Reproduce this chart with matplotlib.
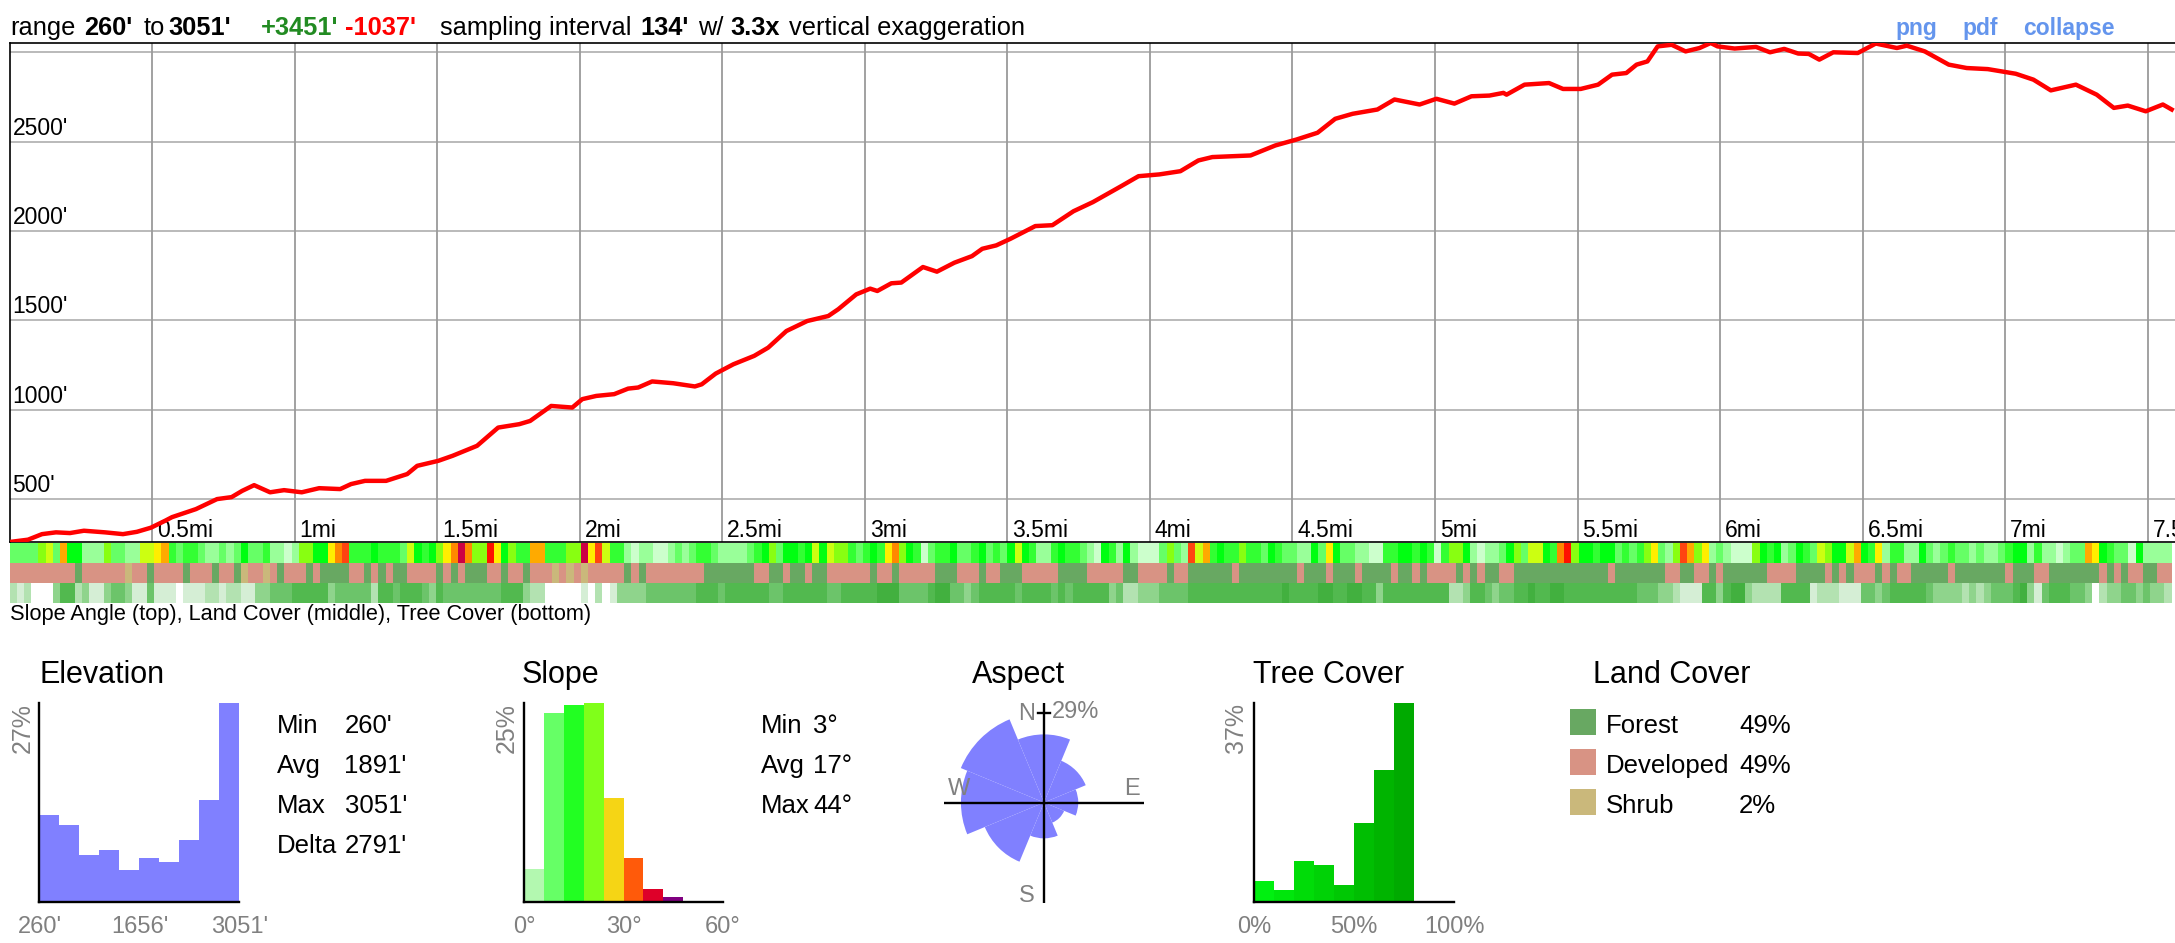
import numpy as np
import matplotlib
matplotlib.use('Agg')
import matplotlib.pyplot as plt
from matplotlib.patches import Wedge, Rectangle

W, H = 2175, 943
plt.rcParams['font.family'] = ['Liberation Sans', 'DejaVu Sans']

# ---- elevation profile (miles, feet)
dist_mi = [0.00, 0.065, 0.114, 0.163, 0.212, 0.261, 0.335, 0.398, 0.447, 0.496, 0.546, 0.570, 0.654,
           0.728, 0.779, 0.816, 0.858, 0.914, 0.963, 1.025, 1.086, 1.160, 1.198, 1.247, 1.321, 1.395,
           1.430, 1.504, 1.554, 1.640, 1.714, 1.788, 1.826, 1.900, 1.974, 2.009, 2.058, 2.121, 2.170,
           2.205, 2.254, 2.328, 2.404, 2.428, 2.477, 2.539, 2.612, 2.661, 2.725, 2.798, 2.872, 2.907,
           2.970, 3.019, 3.044, 3.093, 3.128, 3.204, 3.253, 3.314, 3.376, 3.412, 3.461, 3.511, 3.598,
           3.658, 3.732, 3.800, 3.899, 3.960, 4.033, 4.107, 4.170, 4.219, 4.353, 4.440, 4.514, 4.588,
           4.650, 4.711, 4.798, 4.858, 4.946, 5.005, 5.068, 5.128, 5.191, 5.240, 5.251, 5.314, 5.400,
           5.449, 5.511, 5.572, 5.621, 5.671, 5.707, 5.745, 5.781, 5.830, 5.879, 5.928, 5.967, 5.991,
           6.051, 6.126, 6.175, 6.225, 6.274, 6.311, 6.348, 6.397, 6.483, 6.546, 6.620, 6.655, 6.718,
           6.802, 6.865, 6.939, 7.037, 7.099, 7.160, 7.248, 7.321, 7.381, 7.430, 7.493, 7.553, 7.584]
elev_ft = [260, 273, 304, 314, 310, 323, 314, 304, 317, 340, 379, 399, 444, 500, 511, 546, 578, 538,
           550, 538, 561, 556, 584, 602, 602, 640, 686, 714, 742, 798, 900, 919, 937, 1021, 1012, 1059,
           1077, 1087, 1118, 1124, 1158, 1148, 1130, 1142, 1202, 1254, 1301, 1347, 1440, 1496, 1524,
           1562, 1645, 1677, 1664, 1707, 1711, 1798, 1772, 1822, 1859, 1900, 1919, 1956, 2027, 2032,
           2110, 2161, 2250, 2306, 2316, 2334, 2394, 2413, 2422, 2478, 2511, 2549, 2627, 2655, 2679,
           2735, 2707, 2739, 2712, 2753, 2757, 2772, 2762, 2818, 2827, 2794, 2794, 2818, 2874, 2883,
           2930, 2948, 3032, 3041, 3004, 3023, 3051, 3032, 3020, 3029, 2999, 3018, 2992, 2990, 2958,
           2999, 2995, 3048, 3023, 3036, 3004, 2930, 2911, 2905, 2879, 2846, 2786, 2818, 2762, 2688,
           2701, 2669, 2707, 2679]

elev_grid = [500, 1000, 1500, 2000, 2500, 3000]
elev_labels = ["500'", "1000'", "1500'", "2000'", "2500'"]
mile_grid = [0.5, 1, 1.5, 2, 2.5, 3, 3.5, 4, 4.5, 5, 5.5, 6, 6.5, 7, 7.5]
mile_labels = ['0.5mi', '1mi', '1.5mi', '2mi', '2.5mi', '3mi', '3.5mi', '4mi', '4.5mi', '5mi',
               '5.5mi', '6mi', '6.5mi', '7mi', '7.5mi']

# ---- strips along the route (one code per sample)
slope_strip = ("ccccfgcieebbbfccbbgghidcddcbbcbceccdbbabffeehjkdddedddcgedefhjmjfflhefddiidddffm"
               "hkgddbabbaabcbcddcb"
               "bbbcdefceedegegffdcdedhjfedacddeccdecdcegedbbdeddcbaedbebaaacfcbkgideddfddcedccb"
               "becheccbbaaddeededad"
               "ffebabbcefcggedjlfeedeecdcdfhcbfkifhbcbaaafedebcedcgfeegiedhbddbbecbcdccbcbbcdee"
               "bdbbabccihedccaebbbb")
land_strip = ("DDDDDDDDDFDDDDDDSDDFDDDDFDDDFDDFSDDSDFDDDFDFFFFDDFDFDFFDDDDFDFDFFFDDFDDFDDDSDSDSDDDDDFDFDDDDDDDDFFF"
              "FFFFDDFFDFFDFFDDDDDDFDDFDDDDDFFFDDDFDDFFFDDDDDFFFFDDDDDFFDDDDFDDFFFFFFDFFFFFFFFDFFFDFFFDFFFFDFFDFDDD"
              "DFDFDFFDDFFFFFFFFFFFFFDFFFFFFFDDFFDDFDFFFFFFDDDDFFFFDFDFDDDFDFDDFFFFFDFFFFFFFDFFFDDFFFFFFFDFDFDDFFDD")
tree_strip = ("212000355231134431141110111" "22122113344455555" "344444255455543"
              "5444444445553220000010201" "333344444445554"
              "55555544555555445555566644445664434555554555545455555342233344445555555555555655"
              "55665566553555555555"
              "22355434455655665555555555444332111553566322225555122211144345555543333232344456"
              "31455544302334434332")
slope_colors = {'a': '#ccffcc', 'b': '#99ff99', 'c': '#66ff66', 'd': '#33ff33', 'e': '#00ff11',
                'f': '#88ff11', 'g': '#ccff11', 'h': '#ffee00', 'i': '#ffaa00', 'j': '#ff8800',
                'k': '#ff4411', 'l': '#ff1100', 'm': '#cc0044'}
land_colors = {'F': '#68a862', 'D': '#d89384', 'S': '#cab87b'}
tree_colors = {'0': '#ffffff', '1': '#d5eed5', '2': '#b3e2b1', '3': '#8fd48c', '4': '#6cc46a',
               '5': '#52b94f', '6': '#42b03f'}

# ---- histograms
elev_hist = [11.8, 10.5, 6.4, 7.1, 4.4, 6.0, 5.4, 8.4, 13.8, 27.0]
slope_hist = [4.2, 23.7, 24.7, 25.0, 13.1, 5.5, 1.6, 0.6]
slope_hist_colors = ['#b3f8b0', '#66ff66', '#22ff22', '#80ff1a', '#f5d515', '#ff5a0a', '#de0029', '#800080']
tree_hist = [3.95, 2.3, 7.66, 6.9, 3.2, 14.7, 24.5, 37.0]
tree_hist_colors = ['#00f010', '#00e60c', '#00dc08', '#00d206', '#00c804', '#00be02', '#00b400', '#00aa00']
aspect_dirs = [0, 45, 90, 135, 180, 225, 270, 315]
aspect_pct = [16.6, 7.3, 4.2, 1.7, 4.6, 14.7, 24.7, 29.0]
land_names = ['Forest', 'Developed', 'Shrub']
land_pct = ['49%', '49%', '2%']
land_swatch = ['#68a862', '#d89384', '#cab87b']

fig = plt.figure(figsize=(W / 100, H / 100), dpi=100)


def rect(x0, y0, x1, y1):
    return [x0 / W, 1 - y1 / H, (x1 - x0) / W, (y1 - y0) / H]


GRAY = '#808080'
x_end = (W - 9.5) / 285.1

# main profile
ax = fig.add_axes(rect(9.5, 43, W, 542))
for v in elev_grid:
    ax.axhline(v, color='#b4b4b4', lw=1.3, zorder=1)
for d in mile_grid:
    ax.axvline(d, color='#9a9a9a', lw=1.3, zorder=1)
ax.plot(dist_mi, elev_ft, color='#ff0000', lw=3.2, solid_joinstyle='round', zorder=3)
ax.set_xlim(0, x_end)
ax.set_ylim(260, 3051)
ax.set_xticks([])
ax.set_yticks([])
ax.spines['right'].set_visible(False)
for s in ['top', 'left', 'bottom']:
    ax.spines[s].set_linewidth(1.2)
for v, lab in zip(elev_grid, elev_labels):
    ax.annotate(lab, xy=(0, v), xycoords=('axes fraction', 'data'), xytext=(3, 7),
                textcoords='offset pixels', fontsize=16.5, va='baseline', ha='left', zorder=4)
for d, lab in zip(mile_grid, mile_labels):
    ax.annotate(lab, xy=(d, 0), xycoords=('data', 'axes fraction'), xytext=(5, 5),
                textcoords='offset pixels', fontsize=16.5, va='baseline', ha='left', zorder=2)

# strips
sx = fig.add_axes(rect(9.5, 543, W, 603))
for row, (codes, cmap) in enumerate([(slope_strip, slope_colors), (land_strip, land_colors),
                                     (tree_strip, tree_colors)]):
    n = len(codes)
    dx = dist_mi[-1] / n
    sx.bar(np.arange(n) * dx, 1, width=dx, bottom=row, align='edge',
           color=[cmap[c] for c in codes], linewidth=0)
sx.set_xlim(0, x_end)
sx.set_ylim(3, 0)
sx.axis('off')

# overlay in pixel coordinates for text
ov = fig.add_axes([0, 0, 1, 1], zorder=5)
ov.set_xlim(0, W)
ov.set_ylim(H, 0)
ov.axis('off')


def txt(x, y, s, **kw):
    kw.setdefault('va', 'baseline')
    kw.setdefault('ha', 'left')
    return ov.text(x, y, s, **kw)


hdr = [(10.5, "range", 'black', 'normal'), (84, "260'", 'black', 'bold'), (144, "to", 'black', 'normal'),
       (168, "3051'", 'black', 'bold'), (261, "+3451'", '#228b22', 'bold'), (345, "-1037'", '#ff0000', 'bold'),
       (440.5, "sampling interval", 'black', 'normal'), (640, "134'", 'black', 'bold'),
       (698, "w/", 'black', 'normal'), (730, "3.3x", 'black', 'bold'),
       (789, "vertical exaggeration", 'black', 'normal')]
for x, s, c, w in hdr:
    txt(x, 35, s, color=c, fontweight=w, fontsize=18.3)
for x, s in [(1895, 'png'), (1962, 'pdf'), (2023, 'collapse')]:
    txt(x, 35, s, color='#6495ed', fontweight='bold', fontsize=16.5)

txt(10, 620, 'Slope Angle (top), Land Cover (middle), Tree Cover (bottom)', fontsize=15.7)

# panel titles
for x, s in [(39, 'Elevation'), (522, 'Slope'), (972, 'Aspect'), (1253, 'Tree Cover'), (1593, 'Land Cover')]:
    txt(x, 683, s, fontsize=22)

# elevation histogram
e_edges = np.linspace(260, 3051, len(elev_hist) + 1)
eh = fig.add_axes(rect(39, 703, 239.4, 902))
eh.bar(e_edges[:-1], elev_hist, width=np.diff(e_edges), align='edge', color='#8080ff', linewidth=0)
eh.set_xlim(260, 3051)
eh.set_ylim(0, max(elev_hist))

# slope histogram
s_edges = np.arange(len(slope_hist) + 1) * 6
sh = fig.add_axes(rect(524, 703, 723, 902))
sh.bar(s_edges[:-1], slope_hist, width=6, align='edge', color=slope_hist_colors, linewidth=0)
sh.set_xlim(0, 60)
sh.set_ylim(0, max(slope_hist))

# tree cover histogram
t_edges = np.arange(len(tree_hist) + 1) * 10
th = fig.add_axes(rect(1254, 703, 1454, 902))
th.bar(t_edges[:-1], tree_hist, width=10, align='edge', color=tree_hist_colors, linewidth=0)
th.set_xlim(0, 100)
th.set_ylim(0, max(tree_hist))

for h in [eh, sh, th]:
    for s in ['top', 'right']:
        h.spines[s].set_visible(False)
    for s in ['left', 'bottom']:
        h.spines[s].set_linewidth(1.7)
    h.set_xticks([])
    h.set_yticks([])

# histogram labels
for x, s in [(23, "27%"), (507, "25%"), (1236, "37%")]:
    txt(x, 703, s, rotation=90, ha='center', va='top', color=GRAY, fontsize=18)
for x, s in [(40, "260'"), (140, "1656'"), (240, "3051'"), (524, "0°"), (624, "30°"), (723, "60°"),
             (1254, "0%"), (1354, "50%"), (1454, "100%")]:
    txt(x, 933, s, ha='center', color=GRAY, fontsize=17)

# stats
for i, (k, v) in enumerate(zip(['Min', 'Avg', 'Max', 'Delta'], ["260'", "1891'", "3051'", "2791'"])):
    txt(277, 733 + 40 * i, k, fontsize=18.5)
    txt(344.5, 733 + 40 * i, v, fontsize=18.5)
for i, (k, v) in enumerate(zip(['Min', 'Avg', 'Max'], ["3°", "17°", "44°"])):
    txt(760.5, 733 + 40 * i, k, fontsize=18.5)
    txt(813, 733 + 40 * i, v, fontsize=18.5)

# land cover legend
for i, (nm, p, c) in enumerate(zip(land_names, land_pct, land_swatch)):
    ov.add_patch(Rectangle((1570, 709 + 40 * i), 25.6, 25.6, color=c, linewidth=0))
    txt(1606, 733 + 40 * i, nm, fontsize=18.5)
    txt(1739, 733 + 40 * i, p, fontsize=18.5)

# aspect rose
ra = fig.add_axes(rect(944, 702.5, 1144, 902.5))
ra.set_xlim(-100, 100)
ra.set_ylim(-100, 100)
ra.axis('off')
pmax = max(aspect_pct)
for a, p in zip(aspect_dirs, aspect_pct):
    r = 90 * np.sqrt(p / pmax)
    ra.add_patch(Wedge((0, 0), r, 90 - a - 22.5, 90 - a + 22.5, color='#8080ff', linewidth=0))
ra.plot([-100, 100], [0, 0], color='black', lw=1.7)
ra.plot([0, 0], [-100, 100], color='black', lw=1.7)
ra.plot([-6, 6], [90, 90], color='black', lw=1.7)
ra.text(8, 90, '%d%%' % pmax, color=GRAY, fontsize=17, va='center', ha='left')
ra.text(-9, 88, 'N', color=GRAY, fontsize=17, va='center', ha='right')
ra.text(-96, 7.5, 'W', color=GRAY, fontsize=17, va='baseline', ha='left')
ra.text(80.5, 7.5, 'E', color=GRAY, fontsize=17, va='baseline', ha='left')
ra.text(-9, -100, 'S', color=GRAY, fontsize=17, va='baseline', ha='right')

fig.savefig('out.png', dpi=100)
